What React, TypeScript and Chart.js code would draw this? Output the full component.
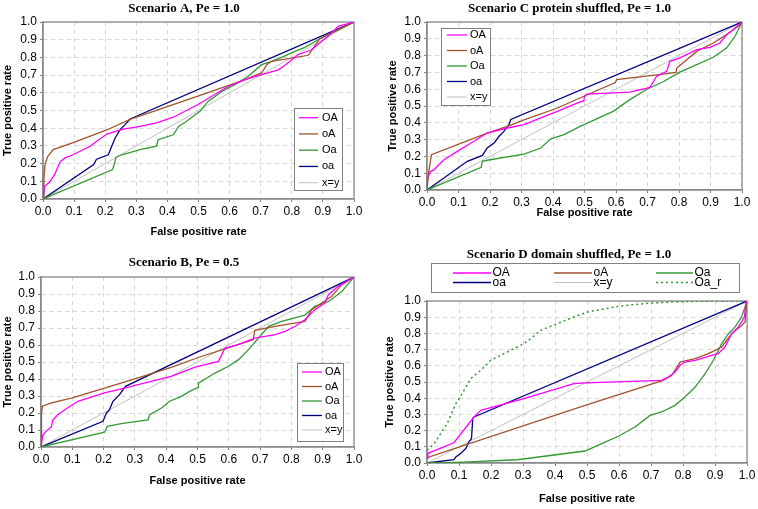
import React, { useEffect, useRef } from "react";
import { Chart, registerables } from "chart.js";
Chart.register(...registerables);

type P = [number, number];

const TICK_LABELS = ["0.0", "0.1", "0.2", "0.3", "0.4", "0.5", "0.6", "0.7", "0.8", "0.9", "1.0"];
const SERIES_NAMES = ["OA", "oA", "Oa", "oa", "x=y"];
const D_SERIES_NAMES = ["OA", "oA", "Oa", "oa", "x=y", "Oa_r"];
const TITLE_A = "Scenario A, Pe = 1.0";
const TITLE_B = "Scenario B, Pe = 0.5";
const TITLE_C = "Scenario C protein shuffled, Pe = 1.0";
const TITLE_D = "Scenario D domain shuffled, Pe = 1.0";
const X_TITLE = "False positive rate";
const Y_TITLE = "True positive rate";

const DIAG: P[] = [[0, 0], [1, 1]];

const A_OA: P[] = [[0, 0], [0.005, 0.07], [0.023, 0.1], [0.038, 0.14], [0.055, 0.21], [0.071, 0.232], [0.097, 0.25], [0.151, 0.298], [0.205, 0.367], [0.258, 0.395], [0.312, 0.41], [0.365, 0.43], [0.419, 0.462], [0.5, 0.535], [0.596, 0.637], [0.65, 0.674], [0.703, 0.702], [0.757, 0.73], [0.78, 0.759], [0.8, 0.787], [0.82, 0.815], [0.864, 0.843], [0.896, 0.891], [0.917, 0.919], [0.949, 0.975], [1, 1]];
const A_oA: P[] = [[0, 0], [0.003, 0.12], [0.007, 0.2], [0.015, 0.24], [0.033, 0.279], [0.097, 0.318], [0.205, 0.39], [0.28, 0.45], [0.505, 0.586], [0.65, 0.675], [0.703, 0.712], [0.72, 0.76], [0.735, 0.778], [0.853, 0.812], [0.89, 0.906], [1, 1]];
const A_Oa: P[] = [[0, 0], [0.224, 0.166], [0.235, 0.236], [0.253, 0.25], [0.312, 0.279], [0.365, 0.298], [0.37, 0.335], [0.419, 0.363], [0.436, 0.41], [0.462, 0.439], [0.489, 0.476], [0.505, 0.495], [0.53, 0.55], [0.575, 0.608], [0.617, 0.646], [0.66, 0.693], [0.703, 0.759], [0.735, 0.778], [0.767, 0.8], [0.81, 0.834], [0.842, 0.857], [0.885, 0.9], [0.939, 0.947], [1, 1]];
const A_oa: P[] = [[0, 0], [0.163, 0.195], [0.172, 0.225], [0.21, 0.25], [0.221, 0.298], [0.232, 0.345], [0.248, 0.392], [0.264, 0.42], [0.28, 0.452], [1, 1]];

const B_OA: P[] = [[0, 0], [0.006, 0.072], [0.022, 0.102], [0.033, 0.118], [0.038, 0.16], [0.054, 0.19], [0.076, 0.219], [0.118, 0.269], [0.15, 0.288], [0.203, 0.318], [0.267, 0.347], [0.31, 0.367], [0.416, 0.416], [0.492, 0.47], [0.567, 0.504], [0.588, 0.582], [0.63, 0.602], [0.683, 0.641], [0.748, 0.661], [0.78, 0.68], [0.812, 0.71], [0.843, 0.749], [0.875, 0.808], [0.907, 0.847], [0.918, 0.896], [0.95, 0.945], [1, 1]];
const B_oA: P[] = [[0, 0], [0.001, 0.1], [0.002, 0.2], [0.005, 0.24], [0.033, 0.259], [0.097, 0.288], [0.203, 0.347], [0.31, 0.406], [0.416, 0.469], [0.5, 0.525], [0.678, 0.631], [0.683, 0.686], [0.748, 0.71], [0.843, 0.739], [0.865, 0.808], [0.897, 0.847], [0.929, 0.886], [0.961, 0.955], [1, 1]];
const B_Oa: P[] = [[0, 0], [0.203, 0.087], [0.212, 0.122], [0.256, 0.137], [0.342, 0.16], [0.347, 0.19], [0.385, 0.229], [0.411, 0.269], [0.449, 0.298], [0.475, 0.327], [0.502, 0.35], [0.503, 0.376], [0.556, 0.435], [0.599, 0.475], [0.631, 0.514], [0.663, 0.573], [0.695, 0.641], [0.727, 0.71], [0.769, 0.739], [0.843, 0.775], [0.875, 0.827], [0.918, 0.855], [0.961, 0.914], [1, 1]];
const B_oa: P[] = [[0, 0], [0.198, 0.151], [0.209, 0.2], [0.219, 0.22], [0.23, 0.269], [0.251, 0.308], [0.262, 0.337], [0.27, 0.357], [1, 1]];

const C_OA: P[] = [[0, 0], [0.001, 0.071], [0.012, 0.111], [0.022, 0.12], [0.033, 0.141], [0.054, 0.18], [0.096, 0.23], [0.149, 0.29], [0.191, 0.339], [0.255, 0.369], [0.308, 0.389], [0.361, 0.429], [0.414, 0.468], [0.486, 0.525], [0.498, 0.53], [0.5, 0.558], [0.507, 0.571], [0.644, 0.583], [0.708, 0.611], [0.729, 0.677], [0.761, 0.706], [0.771, 0.766], [0.803, 0.786], [0.856, 0.835], [0.898, 0.849], [0.93, 0.875], [0.951, 0.925], [0.972, 0.954], [1, 1]];
const C_oA: P[] = [[0, 0], [0.005, 0.1], [0.014, 0.21], [0.191, 0.339], [0.255, 0.379], [0.308, 0.418], [0.414, 0.488], [0.498, 0.558], [0.598, 0.64], [0.602, 0.657], [0.75, 0.69], [0.79, 0.7], [0.793, 0.726], [0.856, 0.825], [0.909, 0.875], [0.951, 0.925], [0.994, 0.984], [1, 1]];
const C_Oa: P[] = [[0, 0], [0.172, 0.135], [0.176, 0.171], [0.2, 0.18], [0.308, 0.214], [0.361, 0.25], [0.393, 0.305], [0.435, 0.33], [0.486, 0.379], [0.591, 0.468], [0.644, 0.538], [0.697, 0.598], [0.751, 0.646], [0.803, 0.702], [0.856, 0.746], [0.909, 0.79], [0.951, 0.845], [0.978, 0.915], [1, 1]];
const C_oa: P[] = [[0, 0], [0.128, 0.171], [0.176, 0.206], [0.191, 0.25], [0.213, 0.28], [0.229, 0.32], [0.244, 0.349], [0.26, 0.389], [0.266, 0.42], [1, 1]];

const D_OA: P[] = [[0, 0.03], [0.003, 0.06], [0.084, 0.125], [0.147, 0.284], [0.168, 0.325], [0.303, 0.397], [0.459, 0.49], [0.494, 0.494], [0.733, 0.51], [0.754, 0.53], [0.775, 0.562], [0.791, 0.603], [0.806, 0.623], [0.838, 0.634], [0.879, 0.658], [0.91, 0.675], [0.931, 0.716], [0.952, 0.798], [0.973, 0.84], [0.992, 0.901], [0.996, 0.983], [1, 1]];
const D_oA: P[] = [[0, 0.033], [0.494, 0.356], [0.738, 0.51], [0.765, 0.541], [0.791, 0.623], [0.838, 0.644], [0.879, 0.675], [0.921, 0.716], [0.952, 0.798], [0.984, 0.85], [0.994, 0.87], [0.997, 0.942], [1, 1]];
const D_Oa: P[] = [[0, 0], [0.095, 0.004], [0.282, 0.02], [0.494, 0.074], [0.546, 0.12], [0.598, 0.165], [0.65, 0.222], [0.697, 0.294], [0.733, 0.315], [0.775, 0.356], [0.806, 0.407], [0.838, 0.469], [0.869, 0.551], [0.895, 0.634], [0.921, 0.737], [0.942, 0.798], [0.963, 0.84], [0.983, 0.901], [0.994, 0.963], [1, 1]];
const D_oa: P[] = [[0, 0], [0.084, 0.02], [0.09, 0.037], [0.105, 0.058], [0.121, 0.089], [0.131, 0.13], [0.139, 0.15], [0.143, 0.274], [0.147, 0.284], [1, 1]];
const D_Oa_r: P[] = [[0, 0.078], [0.022, 0.119], [0.063, 0.243], [0.09, 0.366], [0.116, 0.449], [0.136, 0.52], [0.168, 0.572], [0.199, 0.634], [0.251, 0.685], [0.303, 0.737], [0.324, 0.767], [0.355, 0.819], [0.407, 0.86], [0.459, 0.901], [0.501, 0.932], [0.598, 0.967], [0.702, 0.988], [0.806, 0.997], [0.9, 1], [1, 1]];

const COLORS: Record<string, string> = {
  OA: "#FF00FF",
  oA: "#A0522D",
  Oa: "#339933",
  oa: "#000080",
  "x=y": "#C0C0C0",
  Oa_r: "#339933",
};

const SANS = '"Liberation Sans", Arial, sans-serif';
const SERIF = '"Liberation Serif", "Times New Roman", serif';

type LegendItem = { name: string; lx1: number; lx2: number; tx: number; y: number };
type Spec = {
  box: { left: number; top: number; w: number; h: number };
  area: { l: number; t: number; r: number; b: number };
  padL: number;
  title: string;
  titleX: number;
  titleY: number;
  names: string[];
  data: P[][];
  legendBox: [number, number, number, number];
  legendItems: LegendItem[];
  legendFont: number;
};

function column(names: string[], lx1: number, lx2: number, tx: number, y0: number, dy: number): LegendItem[] {
  return names.map((name, i) => ({ name, lx1, lx2, tx, y: y0 + i * dy }));
}

const SPECS: Spec[] = [
  {
    box: { left: 0, top: 0, w: 379, h: 239 },
    area: { l: 43, t: 22, r: 354, b: 199 },
    padL: 1,
    title: TITLE_A, titleX: 184, titleY: 9,
    names: SERIES_NAMES,
    data: [A_OA, A_oA, A_Oa, A_oa, DIAG],
    legendBox: [294, 108, 342, 190],
    legendItems: column(SERIES_NAMES, 299, 318, 322, 117.7, 16.25),
    legendFont: 11,
  },
  {
    box: { left: 379, top: 0, w: 379, h: 220 },
    area: { l: 427, t: 22, r: 742, b: 190 },
    padL: 7,
    title: TITLE_C, titleX: 569.5, titleY: 8.5,
    names: SERIES_NAMES,
    data: [C_OA, C_oA, C_Oa, C_oa, DIAG],
    legendBox: [441, 28, 490, 105],
    legendItems: column(SERIES_NAMES, 447, 467, 470, 35, 15.5),
    legendFont: 11,
  },
  {
    box: { left: 0, top: 240, w: 379, h: 248 },
    area: { l: 41, t: 277, r: 354, b: 447 },
    padL: 1,
    title: TITLE_B, titleX: 184, titleY: 263,
    names: SERIES_NAMES,
    data: [B_OA, B_oA, B_Oa, B_oa, DIAG],
    legendBox: [297, 363, 343, 441],
    legendItems: column(SERIES_NAMES, 302, 322, 325, 372, 14.5),
    legendFont: 11,
  },
  {
    box: { left: 379, top: 240, w: 379, h: 266 },
    area: { l: 427, t: 301, r: 747, b: 463 },
    padL: 4,
    title: TITLE_D, titleX: 569, titleY: 255,
    names: D_SERIES_NAMES,
    data: [D_OA, D_oA, D_Oa, D_oa, DIAG, D_Oa_r],
    legendBox: [431, 263, 739, 292],
    legendItems: D_SERIES_NAMES.map((name, i) => {
      const col = i % 3;
      const row = Math.floor(i / 3);
      const lx1 = [453, 554, 656][col];
      const lx2 = [491, 592, 693][col];
      return { name, lx1, lx2, tx: lx2 + 1.5, y: 273 + row * 9.5 };
    }),
    legendFont: 12,
  },
];

function Panel({ spec }: { spec: Spec }) {
  const ref = useRef<HTMLCanvasElement>(null);
  useEffect(() => {
    const s = spec;
    const ox = s.box.left;
    const oy = s.box.top;
    const yW = s.area.l - ox - s.padL;
    const xH = oy + s.box.h - s.area.b;

    const decor = {
      id: "decor",
      beforeDatasetsDraw(chart: any) {
        const ctx = chart.ctx;
        const a = chart.chartArea;
        ctx.save();
        ctx.strokeStyle = "#8a8a8a";
        ctx.lineWidth = 1.3;
        ctx.setLineDash([]);
        ctx.strokeRect(a.left, a.top, a.right - a.left, a.bottom - a.top);
        ctx.restore();
      },
      afterDraw(chart: any) {
        const ctx = chart.ctx;
        ctx.save();
        ctx.fillStyle = "#000";
        ctx.font = `bold 13px ${SERIF}`;
        ctx.textAlign = "center";
        ctx.textBaseline = "middle";
        ctx.fillText(s.title, s.titleX - ox, s.titleY - oy);
        const [x1, y1, x2, y2] = s.legendBox;
        ctx.fillStyle = "#fff";
        ctx.fillRect(x1 - ox, y1 - oy, x2 - x1, y2 - y1);
        ctx.strokeStyle = "#808080";
        ctx.lineWidth = 1;
        ctx.strokeRect(x1 - ox + 0.5, y1 - oy + 0.5, x2 - x1, y2 - y1);
        ctx.font = `${s.legendFont}px ${SANS}`;
        ctx.textAlign = "left";
        ctx.textBaseline = "middle";
        for (const it of s.legendItems) {
          ctx.strokeStyle = COLORS[it.name];
          ctx.lineWidth = it.name === "x=y" ? 1 : it.name === "Oa_r" ? 1.5 : 1.3;
          ctx.setLineDash(it.name === "Oa_r" ? [2, 3] : []);
          ctx.beginPath();
          ctx.moveTo(it.lx1 - ox, it.y - oy);
          ctx.lineTo(it.lx2 - ox, it.y - oy);
          ctx.stroke();
          ctx.setLineDash([]);
          ctx.fillStyle = "#000";
          ctx.fillText(it.name, it.tx - ox, it.y - oy);
        }
        ctx.restore();
      },
    };

    const tickFont = { family: SANS, size: 12 };
    const titleFont = { family: SANS, size: 11, weight: "bold" as const };
    const gridCommon = {
      color: "#d4d4d4",
      lineWidth: 1,
      drawTicks: true,
      tickLength: 3,
      tickColor: "#808080",
      tickBorderDash: [],
      tickWidth: 1,
    };
    const borderCommon = { display: true, color: "#8a8a8a", width: 1.3, dash: [4, 4] };

    const chart = new Chart(ref.current!, {
      type: "line",
      data: {
        datasets: s.names.map((name, i) => ({
          label: name,
          data: s.data[i].map(([x, y]) => ({ x, y })),
          borderColor: COLORS[name],
          backgroundColor: COLORS[name],
          borderWidth: name === "x=y" ? 1 : name === "Oa_r" ? 1.5 : 1.3,
          borderDash: name === "Oa_r" ? [2, 3] : [],
          pointRadius: 0,
          tension: 0,
          fill: false,
        })),
      },
      options: {
        responsive: false,
        animation: false,
        events: [],
        layout: {
          padding: {
            left: s.padL,
            top: s.area.t - oy,
            right: ox + s.box.w - s.area.r,
            bottom: 0,
          },
        },
        plugins: {
          legend: { display: false },
          tooltip: { enabled: false },
          title: { display: false },
        },
        scales: {
          x: {
            type: "linear",
            min: 0,
            max: 1,
            ticks: {
              stepSize: 0.1,
              autoSkip: false,
              maxRotation: 0,
              color: "#000",
              font: tickFont,
              padding: 2,
              callback: (v: any) => TICK_LABELS[Math.round(Number(v) * 10)],
            },
            grid: gridCommon,
            border: borderCommon,
            title: { display: true, text: X_TITLE, color: "#000", font: titleFont, padding: 0 },
            afterFit: (sc: any) => {
              sc.height = xH;
            },
          },
          y: {
            type: "linear",
            min: 0,
            max: 1,
            ticks: {
              stepSize: 0.1,
              autoSkip: false,
              color: "#000",
              font: tickFont,
              padding: 3,
              callback: (v: any) => TICK_LABELS[Math.round(Number(v) * 10)],
            },
            grid: gridCommon,
            border: borderCommon,
            title: { display: true, text: Y_TITLE, color: "#000", font: titleFont, padding: 0 },
            afterFit: (sc: any) => {
              sc.width = yW;
            },
          },
        },
      } as any,
      plugins: [decor],
    });
    return () => chart.destroy();
  }, [spec]);

  return (
    <canvas
      ref={ref}
      width={spec.box.w}
      height={spec.box.h}
      style={{
        position: "absolute",
        left: spec.box.left,
        top: spec.box.top,
        width: spec.box.w,
        height: spec.box.h,
      }}
    />
  );
}

export default function App() {
  return (
    <div
      style={{
        position: "absolute",
        left: 0,
        top: 0,
        width: 758,
        height: 509,
        background: "#fff",
        overflow: "hidden",
      }}
    >
      {SPECS.map((s, i) => (
        <Panel key={i} spec={s} />
      ))}
    </div>
  );
}
